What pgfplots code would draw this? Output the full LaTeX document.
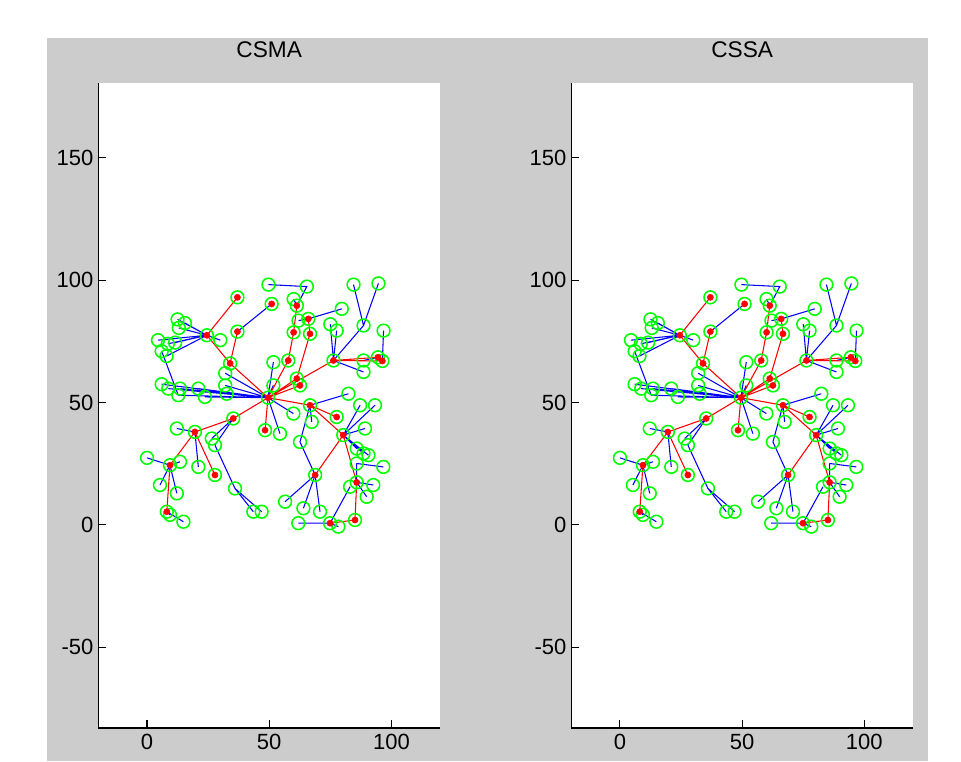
\documentclass[border=0pt]{standalone}
\usepackage{pgfplots}
\usepackage{pgfplotstable}
\pgfplotsset{compat=1.18}
\usepackage{fontspec}
\setmainfont{Liberation Sans}
\definecolor{mgreen}{RGB}{0,255,0}
\definecolor{mred}{RGB}{255,0,0}
\definecolor{mblue}{RGB}{0,0,255}
\definecolor{mgray}{RGB}{204,204,204}

\pgfplotstableread{
x y
49.5 52
24.5 77.5
12.5 84
15.5 82.5
13 80.5
4.5 75.5
8.5 74
11.5 74.5
6 71
8 69
30 75.5
37 93
37 79
34 66
6 57.5
8.7 55.7
13.5 55.7
12.8 53
21 55.7
23.7 52.3
32 57
32.6 53.6
32 62
49.7 98.2
65.4 97.4
51 90.3
60 92.3
61.3 89.6
66 84.2
62 83.5
60 78.7
66.7 78.1
79.7 88.3
75 82
77.6 79.4
84.5 98.2
94.7 98.7
88.6 81.5
96.8 79.4
76.3 67.2
94.5 68.5
96.3 67
88.6 67.2
88.6 62.5
51.7 66.5
57.8 67.2
61.3 59.8
62.6 57
51.7 57
82.4 53.6
66.7 48.9
77.6 44.1
48.3 38.7
54.4 37.3
59.9 45.5
67.4 42.1
62.6 33.9
80.3 36.7
89.2 39.4
85.8 31.2
88.6 29.2
90.6 28.5
85.8 25.1
96.7 23.7
85.8 17.4
83.1 15.6
92.6 16.3
89.9 11.5
68.8 20.4
56.5 9.5
64 6.8
70.8 5.4
61.9 0.7
74.9 0.7
78.3 -0.7
85.1 2
93.3 48.9
87.2 48.9
19.6 38
12.2 39.4
35.3 43.5
26.5 35.3
27.8 32.6
0 27.4
9.4 24.4
13.5 25.8
21 23.7
27.8 20.4
5.3 16.3
12.2 12.9
8.1 5.4
9.4 4.1
14.9 1.3
36 14.9
43.5 5.4
46.9 5.4
}\allnodes

\pgfplotstableread{
x y
49.5 52
24.5 77.5
37 93
37 79
34 66
51 90.3
61.3 89.6
66 84.2
60 78.7
66.7 78.1
76.3 67.2
94.5 68.5
96.3 67
57.8 67.2
61.3 59.8
62.6 57
66.7 48.9
77.6 44.1
48.3 38.7
80.3 36.7
85.8 17.4
68.8 20.4
74.9 0.7
85.1 2
19.6 38
35.3 43.5
9.4 24.4
27.8 20.4
8.1 5.4
}\heads

\pgfplotstableread{
x y
12.5 84
24.5 77.5
nan nan
15.5 82.5
24.5 77.5
nan nan
13 80.5
24.5 77.5
nan nan
4.5 75.5
24.5 77.5
nan nan
8.5 74
24.5 77.5
nan nan
11.5 74.5
24.5 77.5
nan nan
8 69
24.5 77.5
nan nan
30 75.5
24.5 77.5
nan nan
6 71
12.8 53
nan nan
6 57.5
49.5 52
nan nan
8.7 55.7
49.5 52
nan nan
13.5 55.7
49.5 52
nan nan
12.8 53
49.5 52
nan nan
21 55.7
49.5 52
nan nan
23.7 52.3
49.5 52
nan nan
32 57
49.5 52
nan nan
32.6 53.6
49.5 52
nan nan
32 62
49.5 52
nan nan
37 79
51 90.3
nan nan
49.7 98.2
65.4 97.4
61.3 89.6
nan nan
60 92.3
61.3 89.6
nan nan
62 83.5
66 84.2
nan nan
79.7 88.3
66 84.2
nan nan
75 82
76.3 67.2
nan nan
77.6 79.4
76.3 67.2
nan nan
84.5 98.2
88.6 81.5
nan nan
94.7 98.7
88.6 81.5
76.3 67.2
nan nan
96.8 79.4
96.3 67
nan nan
88.6 67.2
94.5 68.5
nan nan
88.6 62.5
76.3 67.2
nan nan
51.7 66.5
49.5 52
nan nan
51.7 57
49.5 52
nan nan
82.4 53.6
66.7 48.9
nan nan
54.4 37.3
49.5 52
nan nan
59.9 45.5
49.5 52
nan nan
67.4 42.1
66.7 48.9
nan nan
66.7 48.9
62.6 33.9
68.8 20.4
nan nan
89.2 39.4
80.3 36.7
nan nan
85.8 31.2
80.3 36.7
nan nan
88.6 29.2
80.3 36.7
nan nan
90.6 28.5
80.3 36.7
nan nan
85.8 25.1
85.8 17.4
nan nan
96.7 23.7
85.8 25.1
nan nan
93.3 48.9
80.3 36.7
nan nan
87.2 48.9
80.3 36.7
nan nan
83.1 15.6
74.9 0.7
nan nan
92.6 16.3
85.8 17.4
nan nan
89.9 11.5
85.8 17.4
nan nan
56.5 9.5
68.8 20.4
nan nan
64 6.8
68.8 20.4
nan nan
70.8 5.4
68.8 20.4
nan nan
61.9 0.7
74.9 0.7
nan nan
78.3 -0.7
74.9 0.7
nan nan
12.2 39.4
19.6 38
nan nan
26.5 35.3
35.3 43.5
nan nan
27.8 32.6
35.3 43.5
nan nan
0 27.4
9.4 24.4
nan nan
13.5 25.8
9.4 24.4
nan nan
21 23.7
19.6 38
nan nan
5.3 16.3
9.4 24.4
nan nan
12.2 12.9
9.4 24.4
nan nan
9.4 4.1
8.1 5.4
nan nan
14.9 1.3
8.1 5.4
nan nan
27.8 32.6
36 14.9
43.5 5.4
nan nan
36 14.9
46.9 5.4
}\blueedges

\pgfplotstableread{
x y
37 93
24.5 77.5
34 66
49.5 52
nan nan
37 79
34 66
nan nan
61.3 89.6
60 78.7
57.8 67.2
49.5 52
nan nan
66 84.2
66.7 78.1
61.3 59.8
49.5 52
nan nan
62.6 57
49.5 52
nan nan
94.5 68.5
76.3 67.2
96.3 67
nan nan
76.3 67.2
49.5 52
nan nan
49.5 52
66.7 48.9
77.6 44.1
nan nan
66.7 48.9
80.3 36.7
68.8 20.4
nan nan
80.3 36.7
85.8 17.4
85.1 2
74.9 0.7
nan nan
48.3 38.7
49.5 52
nan nan
49.5 52
35.3 43.5
19.6 38
9.4 24.4
8.1 5.4
nan nan
19.6 38
27.8 20.4
}\rededges

\pgfplotsset{
  netax/.style={
    scale only axis, width=256.6pt, height=483.75pt,
    xmin=-20, xmax=120, ymin=-83, ymax=180.6,
    axis lines*=left,
    axis line style={black, line width=0.8pt, -},
    every inner x axis line/.append style={-},
    every inner y axis line/.append style={-},
    every outer x axis line/.append style={-},
    every outer y axis line/.append style={-},
    axis background/.style={fill=white},
    tick align=inside, major tick length=6pt,
    tick style={black, line width=0.8pt},
    xtick={0,50,100}, ytick={-50,0,50,100,150},
    minor tick num=0,
    tick label style={font=\fontsize{16.5}{18}\selectfont, black},
    /pgf/number format/assume math mode=true,
    xticklabel style={yshift=-1pt},
    title style={at={(0.5,1)}, anchor=base, yshift=13pt, font=\fontsize{17}{19}\selectfont},
    unbounded coords=jump,
  },
}

\begin{document}
\begin{tikzpicture}
\fill[white] (0pt,0pt) rectangle (720.75pt,570.75pt);
\fill[mgray] (35.25pt,0pt) rectangle (696pt,542.25pt);
\begin{axis}[netax, at={(73.6pt,24.75pt)}, anchor=south west, title={CSMA}]
  \addplot[only marks, mark=o, mark size=4.8pt, mgreen, line width=1.15pt] table[x=x,y=y] {\allnodes};
  \addplot[mblue, line width=0.8pt, mark=none] table[x=x,y=y] {\blueedges};
  \addplot[mred, line width=0.8pt, mark=none] table[x=x,y=y] {\rededges};
  \addplot[only marks, mark=*, mark size=2.3pt, mred, draw=mred, fill=mred] table[x=x,y=y] {\heads};
\end{axis}
\begin{axis}[netax, at={(428.3pt,24.75pt)}, anchor=south west, title={CSSA}]
  \addplot[only marks, mark=o, mark size=4.8pt, mgreen, line width=1.15pt] table[x=x,y=y] {\allnodes};
  \addplot[mblue, line width=0.8pt, mark=none] table[x=x,y=y] {\blueedges};
  \addplot[mred, line width=0.8pt, mark=none] table[x=x,y=y] {\rededges};
  \addplot[only marks, mark=*, mark size=2.3pt, mred, draw=mred, fill=mred] table[x=x,y=y] {\heads};
\end{axis}
\end{tikzpicture}
\end{document}
